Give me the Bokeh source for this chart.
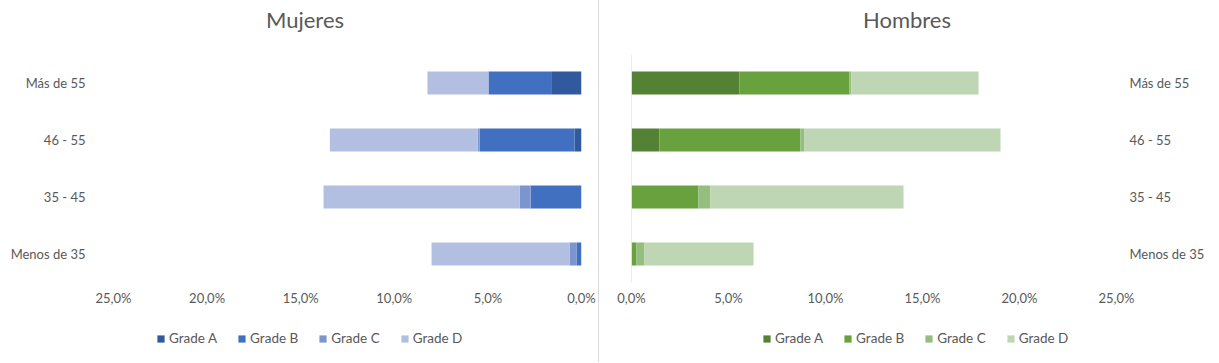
from bokeh.plotting import figure
from bokeh.models import (ColumnDataSource, FactorRange, Range1d, FixedTicker,
                          CustomJSTickFormatter, Legend, LegendItem, Span, Div)
from bokeh.layouts import row, column
from bokeh.embed import file_html
from bokeh.resources import INLINE

categories = ["Menos de 35", "35 - 45", "46 - 55", "Más de 55"]
grades = ["Grade A", "Grade B", "Grade C", "Grade D"]

mujeres_a = [0.0, 0.0, 0.37, 1.62]
mujeres_b = [0.27, 2.72, 5.07, 3.35]
mujeres_c = [0.37, 0.59, 0.10, 0.0]
mujeres_d = [7.37, 10.47, 7.90, 3.26]

hombres_a = [0.0, 0.0, 1.44, 5.57]
hombres_b = [0.24, 3.45, 7.27, 5.67]
hombres_c = [0.43, 0.62, 0.21, 0.09]
hombres_d = [5.62, 9.95, 10.10, 6.56]

x_ticks = [0, 5, 10, 15, 20, 25]

blue = ["#30599E", "#4170C0", "#7C95CF", "#B3BFE0"]
green = ["#548235", "#6AA13F", "#94BE7E", "#BED6B4"]

FONT = "Lato"
GREY = "#595959"

fmt = CustomJSTickFormatter(code="return tick.toFixed(1).replace('.', ',') + '%';")


def make(data, colors, x_range, y_loc, width, mbl, mbr, standoff):
    src = ColumnDataSource(dict(cat=categories, **{g: d for g, d in zip(grades, data)}))
    p = figure(y_range=FactorRange(*categories, range_padding=0), x_range=x_range,
               width=width, height=254, output_backend="svg", toolbar_location=None,
               y_axis_location=y_loc, min_border_left=mbl, min_border_right=mbr,
               min_border_top=0, min_border_bottom=24, title=None)
    p.hbar_stack(grades, y="cat", height=0.4, source=src, color=colors, line_width=0)
    p.outline_line_color = None
    p.grid.grid_line_color = None
    xa = p.xaxis[0]
    xa.ticker = FixedTicker(ticks=x_ticks)
    xa.formatter = fmt
    xa.axis_line_color = None
    xa.major_tick_line_color = None
    xa.major_tick_out = 0
    xa.major_tick_in = 0
    xa.minor_tick_line_color = None
    xa.major_label_text_font = FONT
    xa.major_label_text_font_size = "13px"
    xa.major_label_text_color = GREY
    xa.major_label_standoff = 7
    ya = p.yaxis[0]
    ya.axis_line_color = None
    ya.major_tick_line_color = None
    ya.major_tick_out = 0
    ya.major_tick_in = 0
    ya.minor_tick_line_color = None
    ya.major_label_text_font = FONT
    ya.major_label_text_font_size = "13px"
    ya.major_label_text_color = GREY
    ya.major_label_standoff = standoff
    return p


def make_legend(colors, width, legend_x):
    p = figure(width=width, height=47, output_backend="svg", toolbar_location=None,
               x_axis_type=None, y_axis_type=None, x_range=Range1d(0, 1), y_range=Range1d(0, 1),
               min_border_left=0, min_border_right=0, min_border_top=0, min_border_bottom=0)
    p.outline_line_color = None
    p.grid.grid_line_color = None
    items = []
    for g, c in zip(grades, colors):
        # legend proxy, kept outside the visible range
        r = p.hbar(y=[-10], left=[-10], right=[-9], height=0.4, color=c, line_width=0)
        items.append(LegendItem(label=g, renderers=[r]))
    leg = Legend(items=items, orientation="horizontal", location=(legend_x, 9),
                 glyph_width=9, glyph_height=9, label_text_font=FONT,
                 label_text_font_size="13.5px", label_text_color=GREY,
                 border_line_color=None, background_fill_alpha=0,
                 padding=0, margin=0, spacing=20, label_standoff=4)
    p.add_layout(leg, "center")
    return p


def make_title(text, width, pad_left):
    return Div(text=text, width=width, height=54, margin=0,
               styles={"font-family": FONT, "font-size": "22px", "color": GREY,
                       "text-align": "center", "line-height": "40px",
                       "padding-left": f"{pad_left}px", "box-sizing": "border-box"})


left_title = make_title("Mujeres", 598, 12)
left = make([mujeres_a, mujeres_b, mujeres_c, mujeres_d], blue,
            Range1d(25, 0), "left", 598, 113, 17, 28)
left_leg = make_legend(blue, 598, 43)

right_title = make_title("Hombres", 616, 0)
right = make([hombres_a, hombres_b, hombres_c, hombres_d], green,
             Range1d(0, 25), "right", 616, 32, 99, 13)
right.add_layout(Span(location=0, dimension="height", line_color="#D9D9D9", line_width=1))
right_leg = make_legend(green, 616, 131)

sep = Div(text="", width=1, height=362, margin=0, styles={"background-color": "#D9D9D9"})

layout = row(column(left_title, left, left_leg, spacing=0), sep,
             column(right_title, right, right_leg, spacing=0), spacing=0)

open("out.html", "w").write(file_html(layout, INLINE))
